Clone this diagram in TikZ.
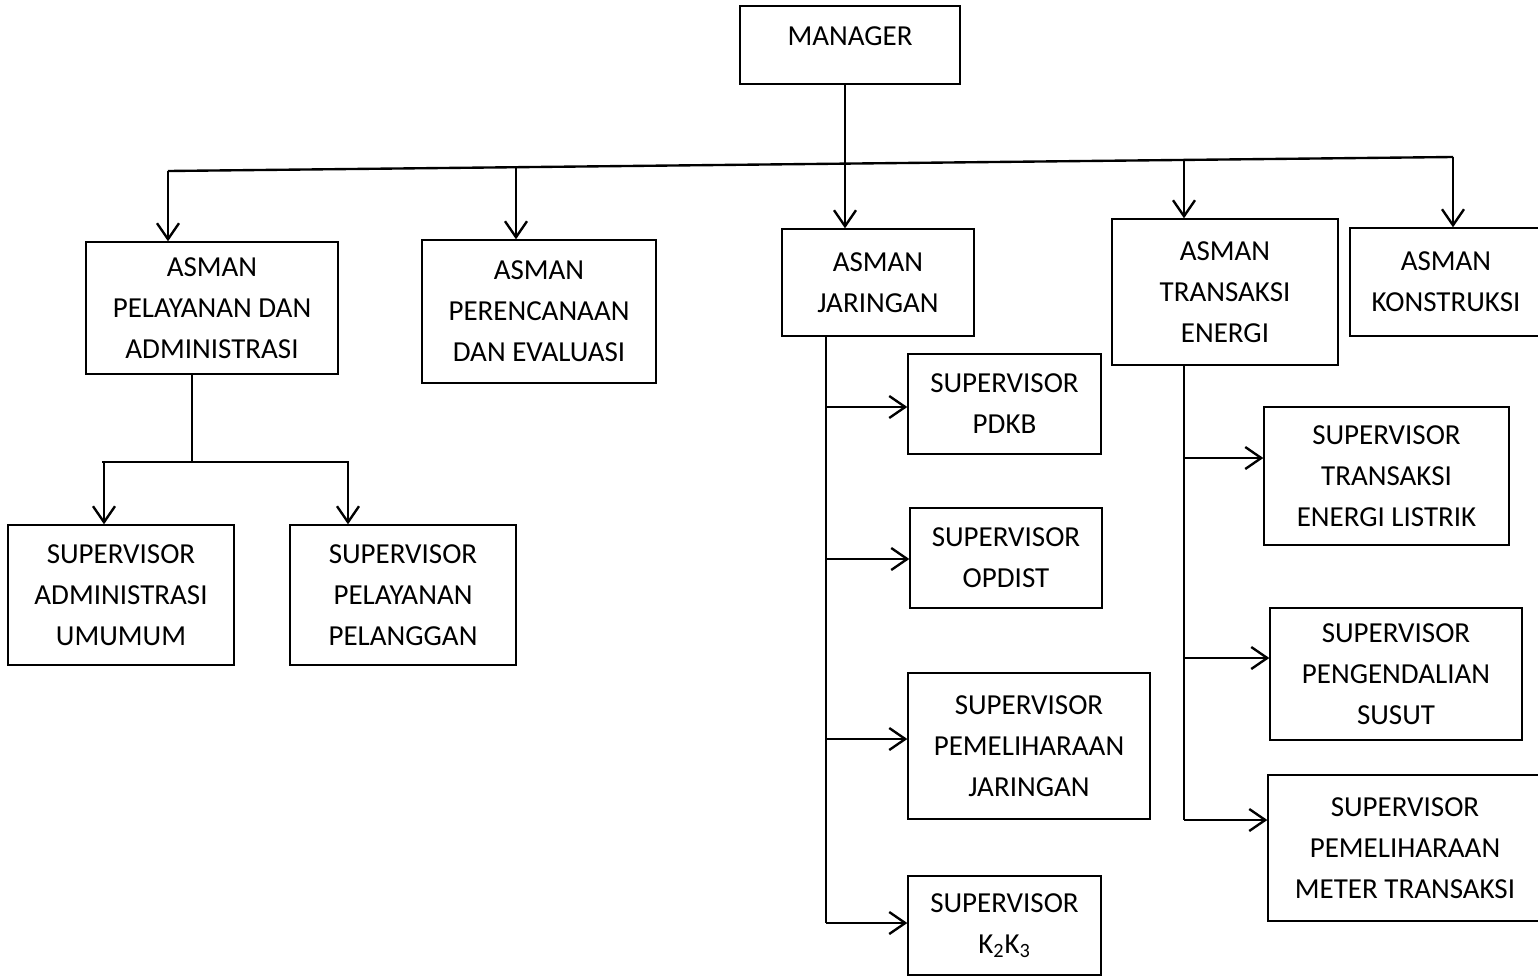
\documentclass[tikz,border=0pt]{standalone}
\usepackage{fontspec}
\setmainfont{Carlito}
\usetikzlibrary{arrows.meta}

\begin{document}
\begin{tikzpicture}[x=0.02cm,y=-0.02cm]
      \tikzstyle{orgbox} = [shape=rectangle, draw=black, line width=0.8pt, inner sep=0pt, align=center, font=\fontsize{16.5}{23.3}\selectfont];
      \tikzstyle{orgline} = [line width=1.35pt];
      \tikzstyle{orgarrow} = [orgline, -{Straight Barb[length=0.32cm,width=0.44cm]}];
      \useasboundingbox (0,0) rectangle (1538,977);
      \clip (0,0) rectangle (1538,977);
      \node (manager) [orgbox, minimum width=4.4cm, minimum height=1.56cm] at (850,45) {\raisebox{0.36cm}{MANAGER}};
      \node (pelayanan) [orgbox, minimum width=5.04cm, minimum height=2.64cm] at (212,308) {ASMAN\\PELAYANAN DAN\\ADMINISTRASI};
      \node (perencanaan) [orgbox, minimum width=4.68cm, minimum height=2.86cm] at (539,311.5) {ASMAN\\PERENCANAAN\\DAN EVALUASI};
      \node (jaringan) [orgbox, minimum width=3.84cm, minimum height=2.14cm] at (878,282.5) {ASMAN\\JARINGAN};
      \node (transaksi) [orgbox, minimum width=4.52cm, minimum height=2.92cm] at (1225,292) {ASMAN\\TRANSAKSI\\ENERGI};
      \node (konstruksi) [orgbox, minimum width=3.84cm, minimum height=2.16cm] at (1446,282) {ASMAN\\KONSTRUKSI};
      \node (admin) [orgbox, minimum width=4.52cm, minimum height=2.8cm] at (121,595) {SUPERVISOR\\ADMINISTRASI\\UMUMUM};
      \node (pelanggan) [orgbox, minimum width=4.52cm, minimum height=2.8cm] at (403,595) {SUPERVISOR\\PELAYANAN\\PELANGGAN};
      \node (pdkb) [orgbox, minimum width=3.86cm, minimum height=2.0cm] at (1004.5,404) {SUPERVISOR\\PDKB};
      \node (opdist) [orgbox, minimum width=3.84cm, minimum height=2.0cm] at (1006,558) {SUPERVISOR\\OPDIST};
      \node (pemjar) [orgbox, minimum width=4.84cm, minimum height=2.92cm] at (1029,746) {SUPERVISOR\\PEMELIHARAAN\\JARINGAN};
      \node (kkk) [orgbox, minimum width=3.86cm, minimum height=1.98cm] at (1004.5,925.5) {SUPERVISOR\\K\textsubscript{2}K\textsubscript{3}};
      \node (tel) [orgbox, minimum width=4.9cm, minimum height=2.76cm] at (1386.5,476) {SUPERVISOR\\TRANSAKSI\\ENERGI LISTRIK};
      \node (susut) [orgbox, minimum width=5.04cm, minimum height=2.64cm] at (1396,674) {SUPERVISOR\\PENGENDALIAN\\SUSUT};
      \node (meter) [orgbox, minimum width=5.48cm, minimum height=2.92cm] at (1405,848) {SUPERVISOR\\PEMELIHARAAN\\METER TRANSAKSI};
      \coordinate (busL) at (168,171);
      \coordinate (busR) at (1453,157);
      \coordinate (bus2) at (516,167);
      \coordinate (bus4) at (1184,160);
      \coordinate (mstem) at (845,0);
      \draw [orgline] (busL) -- (busR);
      \draw [orgarrow] (manager.south -| mstem) -- (jaringan.north -| mstem);
      \draw [orgarrow] (busL) -- (busL |- pelayanan.north);
      \draw [orgarrow] (bus2) -- (bus2 |- perencanaan.north);
      \draw [orgarrow] (bus4) -- (bus4 |- transaksi.north);
      \draw [orgarrow] (busR) -- (busR |- konstruksi.north);
      \coordinate (pj) at (192,462);
      \coordinate (pjL) at (102,462);
      \coordinate (pjR) at (349,462);
      \coordinate (pa) at (104,462);
      \coordinate (pb) at (348,462);
      \draw [line width=1pt] (pelayanan.south -| pj) -- (pj);
      \draw [orgline] (pjL) -- (pjR);
      \draw [orgarrow] (pa) -- (pa |- admin.north);
      \draw [orgarrow] (pb) -- (pb |- pelanggan.north);
      \coordinate (jbus) at (826,923);
      \draw [orgline] (jaringan.south -| jbus) -- (jbus);
      \foreach \y/\n in {407/pdkb, 559/opdist, 739/pemjar, 923/kkk} {
        \coordinate (j\n) at (826,\y);
        \draw [orgarrow] (j\n) -- (j\n -| \n.west);
      }
      \coordinate (tbus) at (1184,820);
      \draw [orgline] (transaksi.south -| tbus) -- (tbus);
      \foreach \y/\n in {458/tel, 658/susut, 820/meter} {
        \coordinate (t\n) at (1184,\y);
        \draw [orgarrow] (t\n) -- (t\n -| \n.west);
      }
    \end{tikzpicture}
\end{document}
